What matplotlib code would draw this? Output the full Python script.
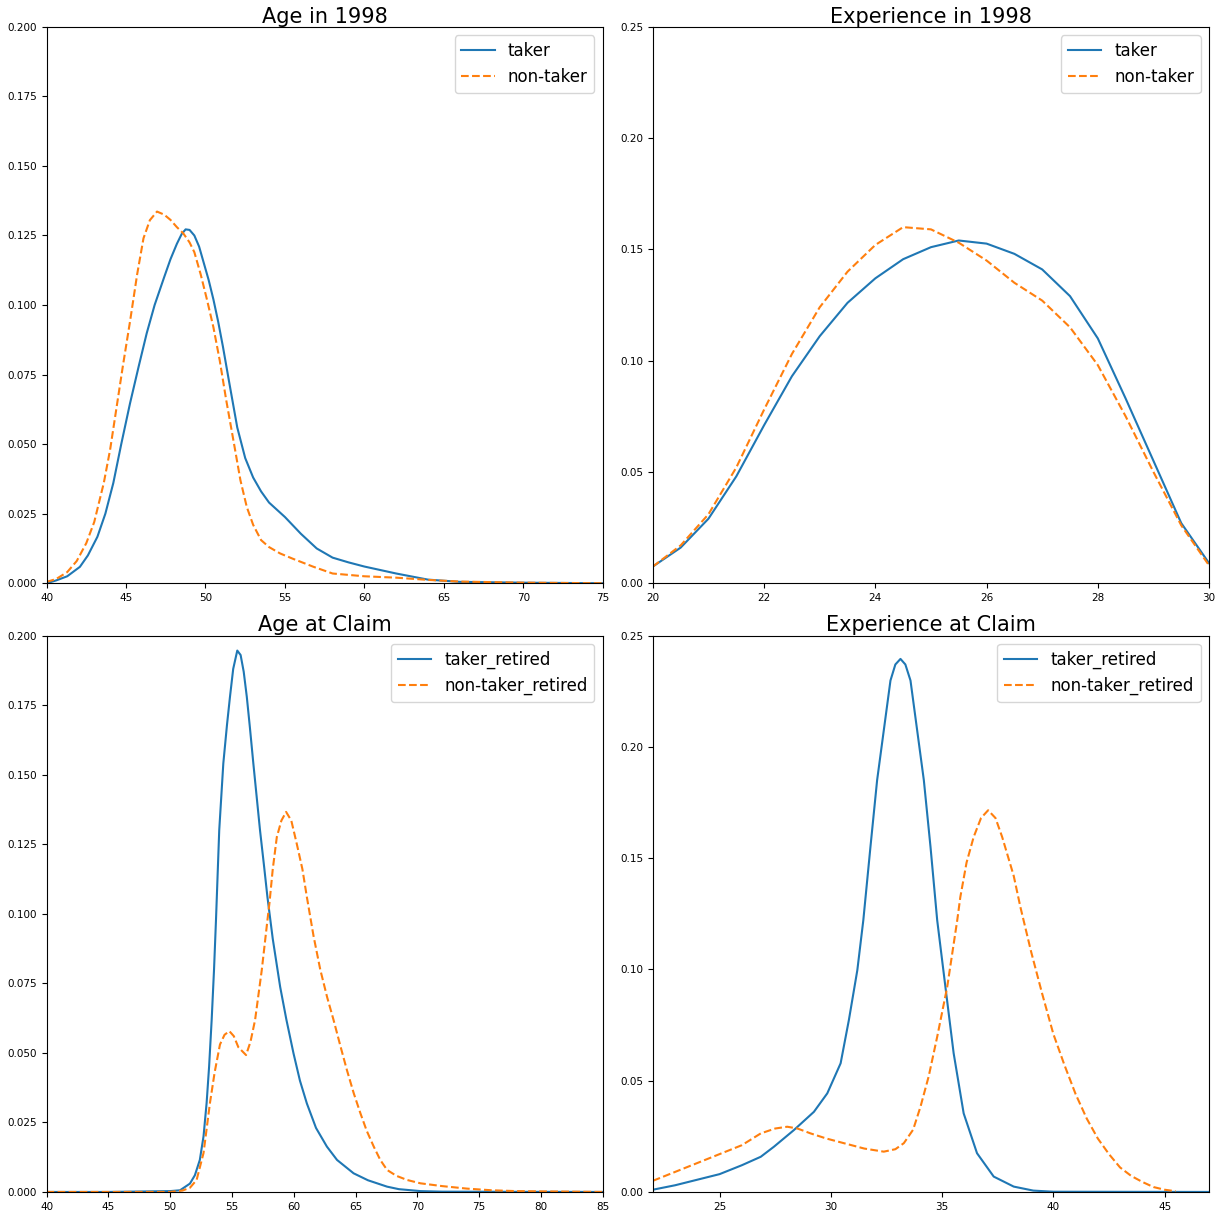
import matplotlib
matplotlib.use("Agg")
import matplotlib.pyplot as plt

# Age in 1998
age98_x_taker = [40, 40.6, 41.3, 42.1, 42.6, 43.2, 43.7, 44.2, 44.7, 45.25, 45.8, 46.3, 46.8, 47.4, 47.8, 48.2, 48.5,
                 48.75, 49.0, 49.3, 49.6, 49.9, 50.2, 50.5, 50.8, 51.1, 51.5, 52.0, 52.5, 53.0, 53.5, 54.0, 55.0,
                 56.0, 57.0, 58.0, 59.0, 60.0, 62.0, 64.0, 66.0, 70.0, 75.0]
age98_taker = [0.0, 0.001, 0.0025, 0.0059, 0.010, 0.0167, 0.025, 0.036, 0.050, 0.0646, 0.078, 0.0898, 0.100, 0.110,
               0.1165, 0.122, 0.1255, 0.1272, 0.127, 0.125, 0.121, 0.115, 0.109, 0.102, 0.094, 0.085, 0.072, 0.056,
               0.045, 0.038, 0.033, 0.029, 0.0238, 0.0178, 0.0125, 0.0092, 0.0075, 0.006, 0.0035, 0.0013, 0.0005,
               0.0002, 0.0]
age98_x_non = [40, 40.6, 41.3, 41.9, 42.5, 43.0, 43.6, 44.0, 44.4, 44.8, 45.25, 45.7, 46.1, 46.5, 46.95, 47.4, 47.8,
               48.2, 48.6, 49.0, 49.3, 49.7, 50.1, 50.5, 50.9, 51.3, 51.8, 52.2, 52.6, 53.0, 53.5, 54.0, 54.7, 55.5,
               56.8, 58.0, 60.0, 62.0, 64.0, 66.0, 70.0, 75.0]
age98_non = [0.0005, 0.0015, 0.004, 0.008, 0.0144, 0.022, 0.036, 0.048, 0.063, 0.078, 0.094, 0.111, 0.124, 0.1305,
             0.1336, 0.1325, 0.1306, 0.128, 0.1258, 0.1225, 0.119, 0.111, 0.1018, 0.092, 0.080, 0.066, 0.050, 0.037,
             0.0274, 0.021, 0.0155, 0.013, 0.0107, 0.0088, 0.0059, 0.0035, 0.0025, 0.002, 0.0012, 0.0006, 0.0002, 0.0]

# Experience in 1998
exp98_x = [20, 20.5, 21, 21.5, 22, 22.5, 23, 23.5, 24, 24.5, 25, 25.5, 26, 26.5, 27, 27.5, 28, 28.5, 29, 29.5, 30]
exp98_taker = [0.0075, 0.016, 0.029, 0.048, 0.071, 0.093, 0.111, 0.126, 0.137, 0.1456, 0.151, 0.154, 0.1526, 0.148,
               0.141, 0.129, 0.110, 0.083, 0.055, 0.027, 0.009]
exp98_non = [0.0075, 0.017, 0.031, 0.052, 0.078, 0.103, 0.124, 0.140, 0.152, 0.160, 0.159, 0.153, 0.145, 0.135,
             0.127, 0.115, 0.098, 0.075, 0.050, 0.026, 0.008]

# Age at Claim
ageclm_x_taker = [40, 45, 50, 50.8, 51.6, 52.0, 52.4, 52.7, 52.95, 53.15, 53.36, 53.55, 53.71, 53.97, 54.3, 54.6,
                  54.84, 55.1, 55.43, 55.7, 55.95, 56.2, 56.45, 56.73, 57.0, 57.27, 57.6, 57.87, 58.3, 58.9, 59.4,
                  59.98, 60.5, 61.06, 61.8, 62.68, 63.5, 64.84, 66.0, 67.55, 68.5, 70.25, 72, 85]
ageclm_taker = [0.0, 0.0, 0.0003, 0.0006, 0.003, 0.006, 0.0115, 0.020, 0.032, 0.045, 0.062, 0.080, 0.098, 0.130,
                0.154, 0.168, 0.178, 0.188, 0.1946, 0.193, 0.187, 0.178, 0.167, 0.154, 0.142, 0.130, 0.117, 0.106,
                0.091, 0.0737, 0.062, 0.0498, 0.040, 0.0318, 0.023, 0.0163, 0.0115, 0.0067, 0.0042, 0.0019, 0.001,
                0.0003, 0.0001, 0.0]
ageclm_x_non = [40, 50, 51, 51.6, 52.14, 52.7, 53.22, 53.6, 54.03, 54.4, 54.79, 55.15, 55.52, 56.14, 56.5, 56.87,
                57.41, 57.87, 58.03, 58.3, 58.63, 59.0, 59.38, 59.8, 60.25, 60.7, 61.06, 61.33, 61.6, 62.14, 62.7,
                63.22, 63.8, 64.3, 64.85, 65.39, 65.9, 66.47, 67.0, 67.55, 68.3, 69.17, 70.25, 72, 74, 76, 78, 80, 85]
ageclm_non = [0.0, 0.0, 0.0005, 0.0015, 0.0043, 0.014, 0.032, 0.043, 0.053, 0.0565, 0.0578, 0.056, 0.052, 0.0492,
              0.054, 0.0618, 0.0797, 0.0977, 0.1037, 0.116, 0.1276, 0.1335, 0.1366, 0.1335, 0.125, 0.116, 0.106,
              0.099, 0.092, 0.080, 0.070, 0.0618, 0.052, 0.0438, 0.0355, 0.0283, 0.022, 0.0163, 0.0115, 0.0079,
              0.0058, 0.0043, 0.0031, 0.0021, 0.0012, 0.0006, 0.0003, 0.0002, 0.0]

# Experience at Claim
expclm_x_taker = [22, 23, 24, 25, 26, 26.85, 27.44, 28.34, 29.24, 29.84, 30.44, 30.81, 31.19, 31.46, 31.78, 32.08,
                  32.38, 32.68, 32.9, 33.13, 33.35, 33.58, 33.88, 34.18, 34.48, 34.78, 35.15, 35.52, 35.97, 36.57,
                  37.32, 38.22, 39.1, 40, 47]
expclm_taker = [0.001, 0.003, 0.0055, 0.008, 0.012, 0.0158, 0.0203, 0.0278, 0.036, 0.0443, 0.0578, 0.0772, 0.0996,
                0.1221, 0.155, 0.185, 0.2074, 0.2298, 0.237, 0.2395, 0.237, 0.2298, 0.2074, 0.185, 0.155, 0.1221,
                0.0921, 0.0623, 0.0353, 0.0174, 0.0069, 0.0024, 0.0006, 0.0001, 0.0]
expclm_x_non = [22, 23, 24, 25, 26, 26.85, 27.5, 28.04, 28.5, 29.09, 29.8, 30.59, 31.5, 32.38, 32.9, 33.28, 33.7,
                34.03, 34.4, 34.78, 35.23, 35.68, 35.82, 36.1, 36.42, 36.75, 37.07, 37.4, 37.7, 38.22, 38.52, 39.0,
                39.5, 40, 40.5, 41, 41.5, 42, 42.5, 43, 43.5, 44, 44.5, 45, 45.5]
expclm_non = [0.005, 0.009, 0.013, 0.017, 0.021, 0.0263, 0.0285, 0.0293, 0.0285, 0.0263, 0.024, 0.0219, 0.0195,
              0.0181, 0.0192, 0.0219, 0.028, 0.0383, 0.052, 0.0697, 0.0921, 0.122, 0.1325, 0.148, 0.1595, 0.168,
              0.1715, 0.168, 0.1595, 0.142, 0.128, 0.108, 0.089, 0.071, 0.057, 0.044, 0.033, 0.024, 0.017, 0.011,
              0.0072, 0.0045, 0.0022, 0.001, 0.0003]

panels = [
    ("Age in 1998", age98_x_taker, age98_taker, age98_x_non, age98_non, ("taker", "non-taker"),
     (40, 75), (0, 0.2), [40, 45, 50, 55, 60, 65, 70, 75], [0, 0.025, 0.05, 0.075, 0.1, 0.125, 0.15, 0.175, 0.2], "{:.3f}"),
    ("Experience in 1998", exp98_x, exp98_taker, exp98_x, exp98_non, ("taker", "non-taker"),
     (20, 30), (0, 0.25), [20, 22, 24, 26, 28, 30], [0, 0.05, 0.1, 0.15, 0.2, 0.25], "{:.2f}"),
    ("Age at Claim", ageclm_x_taker, ageclm_taker, ageclm_x_non, ageclm_non, ("taker_retired", "non-taker_retired"),
     (40, 85), (0, 0.2), [40, 45, 50, 55, 60, 65, 70, 75, 80, 85], [0, 0.025, 0.05, 0.075, 0.1, 0.125, 0.15, 0.175, 0.2], "{:.3f}"),
    ("Experience at Claim", expclm_x_taker, expclm_taker, expclm_x_non, expclm_non, ("taker_retired", "non-taker_retired"),
     (22, 47), (0, 0.25), [25, 30, 35, 40, 45], [0, 0.05, 0.1, 0.15, 0.2, 0.25], "{:.2f}"),
]

fig, axes = plt.subplots(2, 2, figsize=(12.25, 12.2), dpi=100)
fig.subplots_adjust(left=0.038, right=0.987, top=0.978, bottom=0.023, wspace=0.09, hspace=0.094)

for ax, (title, xt, yt, xn, yn, labels, xlim, ylim, xticks, yticks, fmt) in zip(axes.flat, panels):
    ax.plot(xt, yt, color="#1f77b4", lw=1.5, label=labels[0])
    ax.plot(xn, yn, color="#ff7f0e", lw=1.5, ls="--", label=labels[1])
    ax.set_xlim(*xlim)
    ax.set_ylim(*ylim)
    ax.set_xticks(xticks)
    ax.set_yticks(yticks)
    ax.set_yticklabels([fmt.format(v) for v in yticks])
    ax.tick_params(labelsize=7.5)
    ax.set_title(title, fontsize=15, pad=3)
    ax.legend(loc="upper right", fontsize=12)

fig.savefig("out.png", dpi=100)
